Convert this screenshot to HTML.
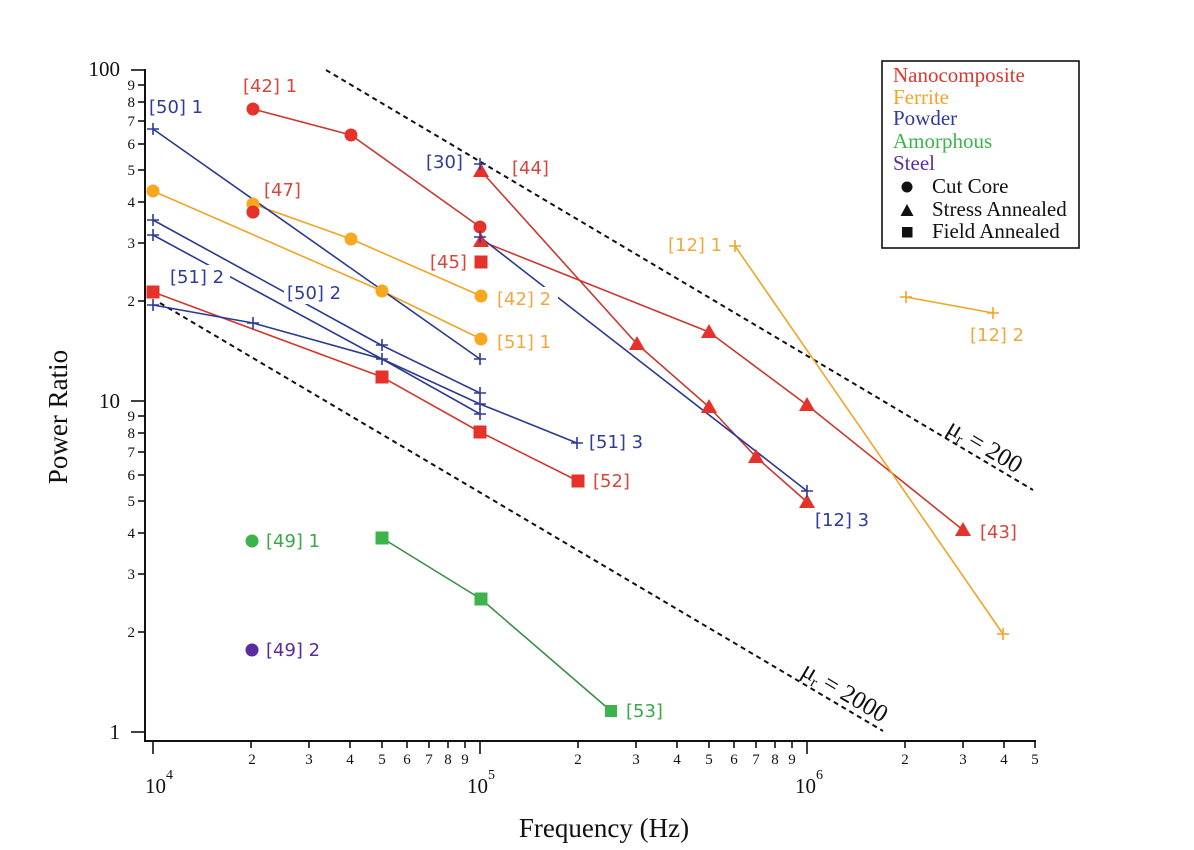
<!DOCTYPE html>
<html>
<head>
<meta charset="utf-8">
<style>
  html, body { margin: 0; padding: 0; background: #ffffff; }
  svg { display: block; }
  .tk { font-family: "Liberation Serif", "DejaVu Serif", serif; fill: #111; }
  .lb { font-family: "DejaVu Sans", "Liberation Sans", sans-serif; font-size: 18px; }
  .lg { font-family: "Liberation Serif", "DejaVu Serif", serif; font-size: 21px; }
</style>
</head>
<body>
<svg width="1194" height="850" viewBox="0 0 1194 850" xmlns="http://www.w3.org/2000/svg">
  <rect x="0" y="0" width="1194" height="850" fill="#ffffff"/>

  <!-- Dashed reference lines -->
  <line x1="326" y1="70" x2="1033" y2="490" stroke="#111" stroke-width="2" stroke-dasharray="5 4"/>
  <line x1="160" y1="303" x2="883" y2="731" stroke="#111" stroke-width="2" stroke-dasharray="5 4"/>

  <!-- mu labels -->
  <g transform="translate(985,446) rotate(30.7)">
    <text class="tk" x="0" y="8" font-size="25" text-anchor="middle">μ<tspan font-size="15" baseline-shift="-4">r</tspan> = 200</text>
  </g>
  <g transform="translate(845,692) rotate(30.7)">
    <text class="tk" x="0" y="8" font-size="25" text-anchor="middle">μ<tspan font-size="15" baseline-shift="-4">r</tspan> = 2000</text>
  </g>

  <!-- Axes -->
  <line x1="145" y1="69" x2="145" y2="742" stroke="#111" stroke-width="2"/>
  <line x1="144" y1="741" x2="1036" y2="741" stroke="#111" stroke-width="2"/>

  <!-- Y ticks -->
  <g stroke="#111" stroke-width="1.6">
    <line x1="131" y1="70" x2="145" y2="70"/>
    <line x1="131" y1="401" x2="145" y2="401"/>
    <line x1="131" y1="732" x2="145" y2="732"/>
    <line x1="138" y1="85" x2="145" y2="85"/>
    <line x1="138" y1="102" x2="145" y2="102"/>
    <line x1="138" y1="121" x2="145" y2="121"/>
    <line x1="138" y1="144" x2="145" y2="144"/>
    <line x1="138" y1="170" x2="145" y2="170"/>
    <line x1="138" y1="202" x2="145" y2="202"/>
    <line x1="138" y1="243" x2="145" y2="243"/>
    <line x1="138" y1="301" x2="145" y2="301"/>
    <line x1="138" y1="416" x2="145" y2="416"/>
    <line x1="138" y1="433" x2="145" y2="433"/>
    <line x1="138" y1="452" x2="145" y2="452"/>
    <line x1="138" y1="475" x2="145" y2="475"/>
    <line x1="138" y1="501" x2="145" y2="501"/>
    <line x1="138" y1="533" x2="145" y2="533"/>
    <line x1="138" y1="574" x2="145" y2="574"/>
    <line x1="138" y1="632" x2="145" y2="632"/>
  </g>
  <!-- Y tick labels -->
  <g class="tk" font-size="21" text-anchor="end">
    <text x="120" y="76">100</text>
    <text x="120" y="408">10</text>
    <text x="120" y="739">1</text>
  </g>
  <g class="tk" font-size="15" text-anchor="end">
    <text x="135" y="90">9</text>
    <text x="135" y="107">8</text>
    <text x="135" y="126">7</text>
    <text x="135" y="149">6</text>
    <text x="135" y="175">5</text>
    <text x="135" y="207">4</text>
    <text x="135" y="248">3</text>
    <text x="135" y="306">2</text>
    <text x="135" y="421">9</text>
    <text x="135" y="438">8</text>
    <text x="135" y="457">7</text>
    <text x="135" y="480">6</text>
    <text x="135" y="506">5</text>
    <text x="135" y="538">4</text>
    <text x="135" y="579">3</text>
    <text x="135" y="637">2</text>
  </g>

  <!-- X ticks -->
  <g stroke="#111" stroke-width="1.6">
    <line x1="153" y1="741" x2="153" y2="754"/>
    <line x1="480" y1="741" x2="480" y2="754"/>
    <line x1="807" y1="741" x2="807" y2="754"/>
    <line x1="251" y1="741" x2="251" y2="748"/>
    <line x1="309" y1="741" x2="309" y2="748"/>
    <line x1="350" y1="741" x2="350" y2="748"/>
    <line x1="382" y1="741" x2="382" y2="748"/>
    <line x1="407" y1="741" x2="407" y2="748"/>
    <line x1="429" y1="741" x2="429" y2="748"/>
    <line x1="448" y1="741" x2="448" y2="748"/>
    <line x1="465" y1="741" x2="465" y2="748"/>
    <line x1="578" y1="741" x2="578" y2="748"/>
    <line x1="636" y1="741" x2="636" y2="748"/>
    <line x1="677" y1="741" x2="677" y2="748"/>
    <line x1="709" y1="741" x2="709" y2="748"/>
    <line x1="734" y1="741" x2="734" y2="748"/>
    <line x1="756" y1="741" x2="756" y2="748"/>
    <line x1="775" y1="741" x2="775" y2="748"/>
    <line x1="792" y1="741" x2="792" y2="748"/>
    <line x1="905" y1="741" x2="905" y2="748"/>
    <line x1="963" y1="741" x2="963" y2="748"/>
    <line x1="1004" y1="741" x2="1004" y2="748"/>
    <line x1="1035" y1="741" x2="1035" y2="748"/>
  </g>
  <g class="tk" font-size="15" text-anchor="middle">
    <text x="252" y="764">2</text>
    <text x="309" y="764">3</text>
    <text x="350" y="764">4</text>
    <text x="382" y="764">5</text>
    <text x="407" y="764">6</text>
    <text x="429" y="764">7</text>
    <text x="448" y="764">8</text>
    <text x="465" y="764">9</text>
    <text x="578" y="764">2</text>
    <text x="636" y="764">3</text>
    <text x="677" y="764">4</text>
    <text x="709" y="764">5</text>
    <text x="734" y="764">6</text>
    <text x="756" y="764">7</text>
    <text x="775" y="764">8</text>
    <text x="792" y="764">9</text>
    <text x="905" y="764">2</text>
    <text x="963" y="764">3</text>
    <text x="1004" y="764">4</text>
    <text x="1035" y="764">5</text>
  </g>
  <g class="tk" font-size="21">
    <text x="145" y="793">10</text><text x="166" y="779" font-size="14">4</text>
    <text x="467" y="793">10</text><text x="488" y="779" font-size="14">5</text>
    <text x="795" y="793">10</text><text x="816" y="779" font-size="14">6</text>
  </g>

  <!-- Axis titles -->
  <text class="tk" x="604" y="837" font-size="27" text-anchor="middle">Frequency (Hz)</text>
  <text class="tk" transform="translate(67,417) rotate(-90)" x="0" y="0" font-size="27" text-anchor="middle">Power Ratio</text>

  <!-- ===== Series lines ===== -->
  <g fill="none" stroke-width="1.6" stroke-linejoin="round">
    <!-- Red -->
    <polyline stroke="#c9392e" points="253,109 351,135 480,227"/>
    <polyline stroke="#c9392e" points="481,171 637,344 709,407 756,457 807,502"/>
    <polyline stroke="#c9392e" points="481,241 709,332 807,405 963,530"/>
    <polyline stroke="#d2392d" points="153,292 382,377 480,432 578,481"/>
    <!-- Orange -->
    <polyline stroke="#f0a428" points="253,204 351,239 481,296"/>
    <polyline stroke="#f0a428" points="153,191 382,291 481,339"/>
    <polyline stroke="#f0a428" points="735,246 1003,634"/>
    <polyline stroke="#f0a428" points="906,297 993,313"/>
    <!-- Blue -->
    <polyline stroke="#2b3a8f" points="153,129 480,359"/>
    <polyline stroke="#2b3a8f" points="153,220 381,345 480,393"/>
    <polyline stroke="#2b3a8f" points="153,235 382,359 480,414"/>
    <polyline stroke="#2b3a8f" points="153,305 253,323 382,359 480,404 577,443"/>
    <polyline stroke="#2b3a8f" points="480,237 807,491"/>
    <!-- Green -->
    <polyline stroke="#3a8f45" points="382,538 481,599 611,711"/>
  </g>

  <!-- White label backgrounds that occlude lines -->
  <rect x="167" y="265" width="63" height="23" fill="#fff"/>
  <rect x="284" y="281" width="64" height="23" fill="#fff"/>
  <rect x="494" y="287" width="64" height="23" fill="#fff"/>

  <!-- ===== Markers ===== -->
  <!-- Red circles -->
  <g fill="#e5322a">
    <circle cx="253" cy="109" r="6.5"/>
    <circle cx="351" cy="135" r="6.5"/>
    <circle cx="480" cy="227" r="6.5"/>
    <circle cx="253" cy="212" r="6.5"/>
  </g>
  <!-- Orange circles -->
  <g fill="#f7a81e">
    <circle cx="253" cy="204" r="6.5"/>
    <circle cx="351" cy="239" r="6.5"/>
    <circle cx="481" cy="296" r="6.5"/>
    <circle cx="153" cy="191" r="6.5"/>
    <circle cx="382" cy="291" r="6.5"/>
    <circle cx="481" cy="339" r="6.5"/>
  </g>
  <!-- re-draw red 47 on top of orange -->
  <circle cx="253" cy="212" r="6.5" fill="#e5322a"/>
  <!-- Red triangles -->
  <g fill="#e5322a">
    <polygon points="481,163 473,177 489,177"/>
    <polygon points="637,336 629,350 645,350"/>
    <polygon points="709,399 701,413 717,413"/>
    <polygon points="756,449 748,463 764,463"/>
    <polygon points="807,494 799,508 815,508"/>
    <polygon points="481,233 473,247 489,247"/>
    <polygon points="709,324 701,338 717,338"/>
    <polygon points="807,397 799,411 815,411"/>
    <polygon points="963,522 955,536 971,536"/>
  </g>
  <!-- Red squares -->
  <g fill="#e5322a">
    <rect x="474.5" y="255.5" width="13" height="13"/>
    <rect x="146.5" y="285.5" width="13" height="13"/>
    <rect x="375.5" y="370.5" width="13" height="13"/>
    <rect x="473.5" y="425.5" width="13" height="13"/>
    <rect x="571.5" y="474.5" width="13" height="13"/>
  </g>
  <!-- Green -->
  <g fill="#3cb44b">
    <circle cx="252" cy="541" r="6.5"/>
    <rect x="375.5" y="531.5" width="13" height="13"/>
    <rect x="474.5" y="592.5" width="13" height="13"/>
    <rect x="605" y="705" width="12" height="12"/>
  </g>
  <!-- Purple -->
  <circle cx="252" cy="650" r="6.5" fill="#5a2ca0"/>

  <!-- Plus markers -->
  <g stroke="#2b3a9a" stroke-width="1.6" fill="none">
    <path d="M147,129h12M153,123v12"/>
    <path d="M147,220h12M153,214v12"/>
    <path d="M147,235h12M153,229v12"/>
    <path d="M147,305h12M153,299v12"/>
    <path d="M247,323h12M253,317v12"/>
    <path d="M376,345h12M382,339v12"/>
    <path d="M376,359h12M382,353v12"/>
    <path d="M474,359h12M480,353v12"/>
    <path d="M474,393h12M480,387v12"/>
    <path d="M474,404h12M480,398v12"/>
    <path d="M474,414h12M480,408v12"/>
    <path d="M571,443h12M577,437v12"/>
    <path d="M474,164h12M480,158v12"/>
    <path d="M474,237h12M480,231v12"/>
    <path d="M801,491h12M807,485v12"/>
  </g>
  <g stroke="#f0a428" stroke-width="1.6" fill="none">
    <path d="M729,246h12M735,240v12"/>
    <path d="M997,634h12M1003,628v12"/>
    <path d="M900,297h12M906,291v12"/>
    <path d="M987,313h12M993,307v12"/>
  </g>

  <!-- ===== Data labels ===== -->
  <g class="lb">
    <text x="243" y="92" fill="#d4473c">[42] 1</text>
    <text x="149" y="113" fill="#2e3d96">[50] 1</text>
    <text x="264" y="196" fill="#d4473c">[47]</text>
    <text x="426" y="168" fill="#2e3d96">[30]</text>
    <text x="512" y="174" fill="#d4473c">[44]</text>
    <text x="430" y="268" fill="#d4473c">[45]</text>
    <text x="497" y="305" fill="#f0a83e">[42] 2</text>
    <text x="170" y="283" fill="#2e3d96">[51] 2</text>
    <text x="287" y="299" fill="#2e3d96">[50] 2</text>
    <text x="497" y="348" fill="#f0a83e">[51] 1</text>
    <text x="589" y="448" fill="#2e3d96">[51] 3</text>
    <text x="593" y="487" fill="#d4473c">[52]</text>
    <text x="668" y="251" fill="#f0a83e">[12] 1</text>
    <text x="970" y="341" fill="#f0a83e">[12] 2</text>
    <text x="815" y="526" fill="#2e3d96">[12] 3</text>
    <text x="980" y="538" fill="#d4473c">[43]</text>
    <text x="266" y="547" fill="#3ca64a">[49] 1</text>
    <text x="266" y="656" fill="#5a2a9a">[49] 2</text>
    <text x="626" y="717" fill="#3ca64a">[53]</text>
  </g>

  <!-- ===== Legend ===== -->
  <rect x="882" y="61" width="197" height="187" fill="#fff" stroke="#111" stroke-width="1.6"/>
  <g class="lg">
    <text x="893" y="82" fill="#d8392f">Nanocomposite</text>
    <text x="893" y="104" fill="#f2a52a">Ferrite</text>
    <text x="893" y="125" fill="#2e3aa0">Powder</text>
    <text x="893" y="148" fill="#3cb44b">Amorphous</text>
    <text x="893" y="170" fill="#5a2ca0">Steel</text>
    <text x="932" y="193" fill="#111">Cut Core</text>
    <text x="932" y="216" fill="#111">Stress Annealed</text>
    <text x="932" y="238" fill="#111">Field Annealed</text>
  </g>
  <circle cx="907" cy="187" r="5.5" fill="#111"/>
  <polygon points="907,204 900.5,216 913.5,216" fill="#111"/>
  <rect x="902" y="227" width="10.5" height="10.5" fill="#111"/>
</svg>
</body>
</html>
